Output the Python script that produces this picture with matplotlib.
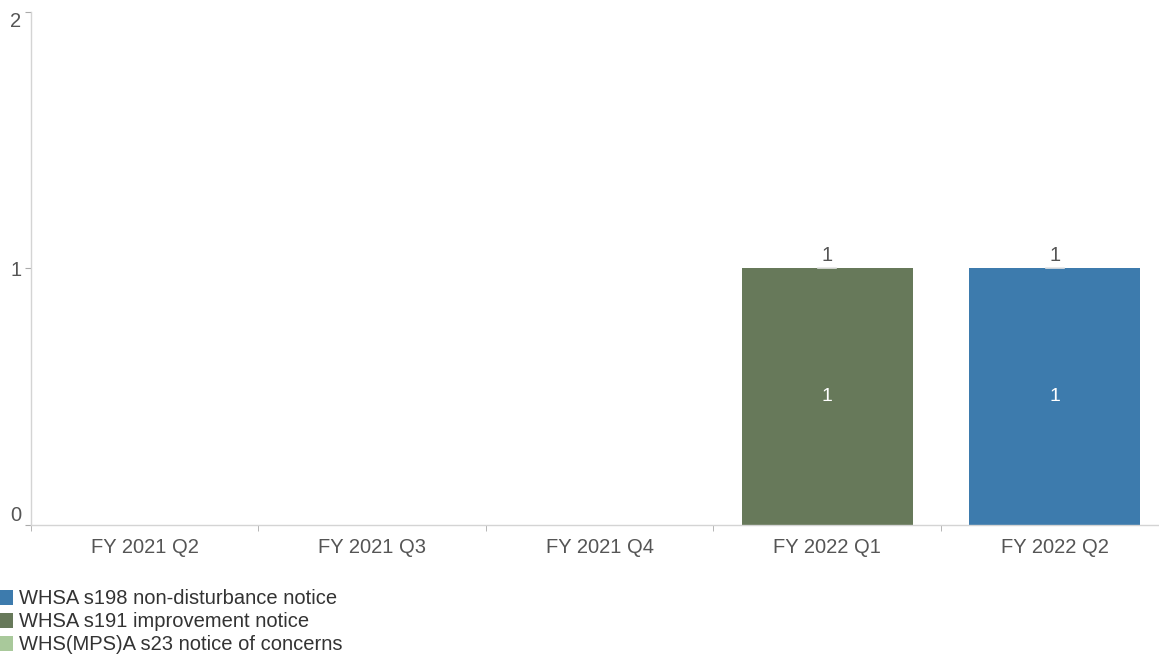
import numpy as np
import matplotlib.pyplot as plt

plt.rcParams['font.family'] = ['Liberation Sans', 'DejaVu Sans']

# quarterly notice counts by type
quarters = ['FY 2021 Q2', 'FY 2021 Q3', 'FY 2021 Q4', 'FY 2022 Q1', 'FY 2022 Q2']
s198_non_disturbance = [0, 0, 0, 0, 1]
s191_improvement = [0, 0, 0, 1, 0]
s23_concerns = [0, 0, 0, 0, 0]

series = [
    ('WHSA s198 non-disturbance notice', s198_non_disturbance, '#3d7bad'),
    ('WHSA s191 improvement notice', s191_improvement, '#67795a'),
    ('WHS(MPS)A s23 notice of concerns', s23_concerns, '#a9c99b'),
]

fig = plt.figure(figsize=(11.59, 6.54), dpi=100)
# last category runs past the right edge of the figure
ax = fig.add_axes([0.0267, 0.197, 0.9815, 0.785])

x = np.arange(len(quarters))
width = 0.752
bottom = np.zeros(len(quarters))
# stack in reverse so the legend order reads top to bottom
for name, vals, color in reversed(series):
    vals = np.array(vals, dtype=float)
    ax.bar(x, vals, width, bottom=bottom, color=color, label=name)
    for xi, v, b in zip(x, vals, bottom):
        if v > 0:
            ax.text(xi, b + v / 2, f'{v:g}', ha='center', va='center',
                    color='white', fontsize=14)
    bottom += vals

# totals above each bar
for xi, tot in zip(x, bottom):
    if tot > 0:
        ax.plot([xi - 0.04, xi + 0.04], [tot, tot], color='#e4e4e4', lw=1.2)
        ax.text(xi, tot + 0.012, f'{tot:g}', ha='center', va='bottom',
                color='#555555', fontsize=14.5)

ax.set_xlim(-0.5, len(quarters) - 0.5)
ax.set_ylim(0, 2)
ax.set_yticks([0, 1, 2])
ax.set_xticks(x)
ax.set_xticklabels(quarters)
ax.set_xticks(np.arange(len(quarters) + 1) - 0.5, minor=True)

for side in ['top', 'right']:
    ax.spines[side].set_visible(False)
for side in ['left', 'bottom']:
    ax.spines[side].set_color('#d4d4d4')
    ax.spines[side].set_linewidth(1)

ax.tick_params(axis='x', which='major', length=0, pad=9,
               labelsize=14.5, labelcolor='#555555')
ax.tick_params(axis='x', which='minor', length=4, color='#aaaaaa')
ax.tick_params(axis='y', length=4, color='#aaaaaa', pad=3,
               labelsize=14.5, labelcolor='#555555')

# keep the end labels inside the axis range
ylabels = ax.get_yticklabels()
ylabels[0].set_verticalalignment('bottom')
ylabels[-1].set_verticalalignment('top')

handles, labels = ax.get_legend_handles_labels()
fig.legend(handles[::-1], labels[::-1], loc='lower left',
           bbox_to_anchor=(-0.011, -0.019), frameon=False, fontsize=14.5,
           handlelength=0.7, handleheight=0.8, handletextpad=0.3,
           labelspacing=0.2, borderpad=0.1, labelcolor='#333333')

fig.savefig('out.png', dpi=100)
